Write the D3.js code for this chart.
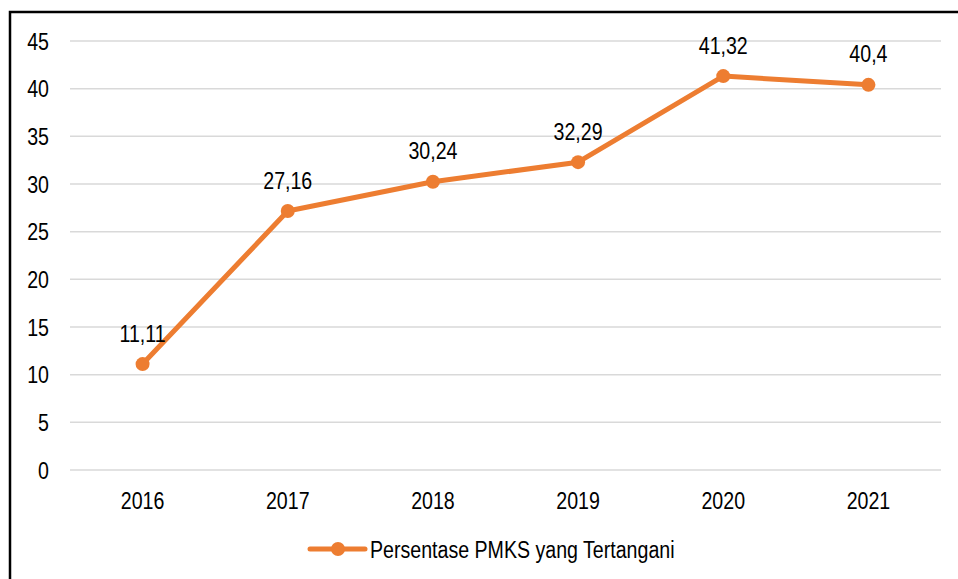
<!DOCTYPE html>
<html lang="en">
<head>
  <meta charset="UTF-8">
  <title>Persentase PMKS yang Tertangani</title>
  <style>
    body {
      margin: 0;
      padding: 0;
      background: #fff;
    }
    svg text {
      font-family: "Liberation Sans", Arial, sans-serif;
      font-size: 24.5px;
      fill: #000;
    }
  </style>
</head>
<body>
  <svg id="chart" width="958" height="579"></svg>

  <script src="https://d3js.org/d3.v7.min.js"></script>
  <script>
    const years = ['2016', '2017', '2018', '2019', '2020', '2021'];
    const values = [11.11, 27.16, 30.24, 32.29, 41.32, 40.4];
    const valueLabels = ['11,11', '27,16', '30,24', '32,29', '41,32', '40,4'];
    const yTicks = [0, 5, 10, 15, 20, 25, 30, 35, 40, 45];
    const seriesName = 'Persentase PMKS yang Tertangani';

    const orange = '#ED7D31';
    // no narrow font installed, so squeeze Liberation Sans like Arial Narrow
    const narrow = 0.8;
    const svg = d3.select('#chart');

    function place(px, py) {
      return `translate(${px},${py}) scale(${narrow},1)`;
    }

    // outer frame, runs off the right and bottom edges
    svg.append('rect')
      .attr('x', 10)
      .attr('y', 12)
      .attr('width', 960)
      .attr('height', 580)
      .attr('fill', 'none')
      .attr('stroke', '#000')
      .attr('stroke-width', 2.5);

    const x = d3.scaleBand()
      .domain(years)
      .range([70, 941])
      .padding(0);

    const y = d3.scaleLinear()
      .domain([0, 45])
      .range([470, 41]);

    const cx = d => x(d) + x.bandwidth() / 2;

    // gridlines
    svg.append('g')
      .selectAll('line')
      .data(yTicks)
      .enter()
      .append('line')
      .attr('x1', 70)
      .attr('x2', 941)
      .attr('y1', d => y(d))
      .attr('y2', d => y(d))
      .attr('stroke', '#d9d9d9')
      .attr('stroke-width', 1.5);

    // y axis labels
    svg.append('g')
      .selectAll('text')
      .data(yTicks)
      .enter()
      .append('text')
      .attr('transform', d => place(49, y(d)))
      .attr('dy', '0.35em')
      .attr('text-anchor', 'end')
      .text(d => d);

    // x axis labels
    svg.append('g')
      .selectAll('text')
      .data(years)
      .enter()
      .append('text')
      .attr('transform', d => place(cx(d), 500))
      .attr('dy', '0.35em')
      .attr('text-anchor', 'middle')
      .text(d => d);

    const points = years.map((yr, i) => ({ year: yr, value: values[i], label: valueLabels[i] }));

    const line = d3.line()
      .x(d => cx(d.year))
      .y(d => y(d.value));

    svg.append('path')
      .datum(points)
      .attr('d', line)
      .attr('fill', 'none')
      .attr('stroke', orange)
      .attr('stroke-width', 5)
      .attr('stroke-linejoin', 'round')
      .attr('stroke-linecap', 'round');

    svg.append('g')
      .selectAll('circle')
      .data(points)
      .enter()
      .append('circle')
      .attr('cx', d => cx(d.year))
      .attr('cy', d => y(d.value))
      .attr('r', 7)
      .attr('fill', orange);

    // data labels
    svg.append('g')
      .selectAll('text')
      .data(points)
      .enter()
      .append('text')
      .attr('transform', d => place(cx(d.year), y(d.value) - 31))
      .attr('dy', '0.35em')
      .attr('text-anchor', 'middle')
      .text(d => d.label);

    // legend
    const legend = svg.append('g').attr('transform', 'translate(310, 549)');
    legend.append('line')
      .attr('x1', 0)
      .attr('x2', 55)
      .attr('stroke', orange)
      .attr('stroke-width', 5)
      .attr('stroke-linecap', 'round');
    legend.append('circle')
      .attr('cx', 28)
      .attr('r', 7)
      .attr('fill', orange);
    legend.append('text')
      .attr('transform', place(60, 0))
      .attr('dy', '0.35em')
      .text(seriesName);
  </script>
</body>
</html>
